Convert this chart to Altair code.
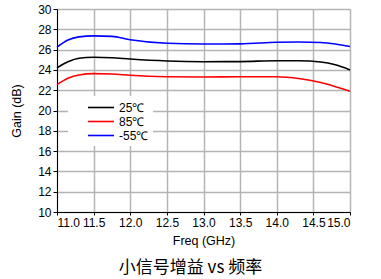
import altair as alt
import pandas as pd

freq = [11.0, 11.15, 11.3, 11.5, 11.75, 12.0, 12.5, 13.0, 13.5, 14.0, 14.3, 14.6, 14.8, 15.0]
g25 = [24.2, 24.8, 25.15, 25.24, 25.2, 25.07, 24.88, 24.81, 24.82, 24.9, 24.9, 24.78, 24.5, 24.0]
g85 = [22.55, 23.17, 23.5, 23.63, 23.6, 23.47, 23.33, 23.3, 23.33, 23.32, 23.15, 22.75, 22.35, 21.9]
gm55 = [26.25, 26.95, 27.25, 27.35, 27.3, 26.97, 26.62, 26.55, 26.56, 26.72, 26.75, 26.7, 26.55, 26.3]
series = ["25℃", "85℃", "-55℃"]
colors = ["#000000", "#ff0000", "#0000ff"]
x_ticks = [11.0, 11.5, 12.0, 12.5, 13.0, 13.5, 14.0, 14.5, 15.0]
y_ticks = [10, 12, 14, 16, 18, 20, 22, 24, 26, 28, 30]

rows = []
for name, vals in zip(series, [g25, g85, gm55]):
    for f, v in zip(freq, vals):
        rows.append({"freq": f, "gain": v, "series": name})
df = pd.DataFrame(rows)

font = "Liberation Sans"

chart = alt.Chart(df).mark_line(strokeWidth=1.6, interpolate="monotone").encode(
    x=alt.X("freq:Q", scale=alt.Scale(domain=[11, 15], nice=False),
            axis=alt.Axis(values=x_ticks, format=".1f", title="Freq (GHz)",
                          gridColor="#b4b4b4", gridWidth=1.5, domainColor="#000",
                          tickColor="#000", tickSize=3, labelFontSize=12,
                          labelColor="#000", titleFontSize=12.5, titleFontWeight="normal",
                          titleColor="#000", labelPadding=2, titlePadding=6,
                          labelFont=font, titleFont=font)),
    y=alt.Y("gain:Q", scale=alt.Scale(domain=[10, 30], nice=False),
            axis=alt.Axis(values=y_ticks, title="Gain (dB)",
                          gridColor="#b4b4b4", gridWidth=1.5, domainColor="#000",
                          tickColor="#000", tickSize=4, labelFontSize=12,
                          labelColor="#000", titleFontSize=12.5, titleFontWeight="normal",
                          titleColor="#000", labelPadding=2, titlePadding=14,
                          labelFont=font, titleFont=font)),
    color=alt.Color("series:N", sort=series,
                    scale=alt.Scale(domain=series, range=colors),
                    legend=alt.Legend(title=None, orient="none", legendX=11, legendY=87,
                                      symbolType="M-1,0H3", symbolSize=169,
                                      symbolStrokeWidth=1.6, symbolFillColor="transparent",
                                      fillColor="white", symbolOffset=15,
                                      padding=4, labelFontSize=12, labelFont=font,
                                      labelColor="#000", rowPadding=0, labelOffset=17)),
).properties(
    width=293, height=203,
    title=alt.TitleParams("小信号增益 vs 频率", orient="bottom", anchor="middle",
                          font="Noto Sans CJK SC", fontSize=17, fontWeight="normal",
                          color="#000", offset=13, dx=-13),
    padding={"left": 57, "top": 9, "right": 31, "bottom": 67},
    autosize=alt.AutoSizeParams(type="none"),
).configure_view(stroke="#000", strokeWidth=1).configure(background="white")

chart.save("out.html", embed_options={"renderer": "svg", "actions": False})
